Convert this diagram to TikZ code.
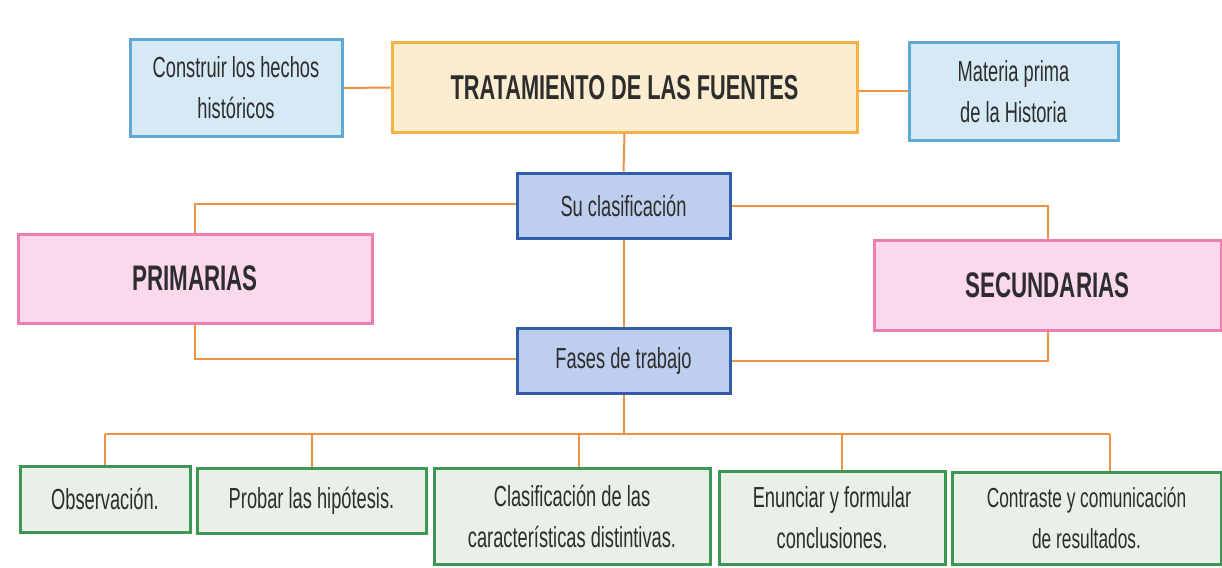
\documentclass[tikz,border=0pt]{standalone}
\usepackage{fontspec}
\setmainfont{Liberation Sans}[FakeStretch=0.63]
\definecolor{lbfill}{RGB}{214,234,246}
\definecolor{lbdraw}{RGB}{95,170,212}
\definecolor{orfill}{RGB}{253,237,208}
\definecolor{ordraw}{RGB}{246,178,70}
\definecolor{dbfill}{RGB}{190,206,238}
\definecolor{dbdraw}{RGB}{52,92,172}
\definecolor{pkfill}{RGB}{251,216,236}
\definecolor{pkdraw}{RGB}{238,128,176}
\definecolor{gnfill}{RGB}{232,240,232}
\definecolor{gndraw}{RGB}{62,150,84}
\definecolor{conn}{RGB}{240,145,70}
\definecolor{txt}{RGB}{45,45,45}
\tikzset{
  box/.style={rectangle, line width=3pt, inner sep=0pt, align=center, text=txt,
    font=\fontsize{29}{41}\selectfont},
  lightblue/.style={box, fill=lbfill, draw=lbdraw},
  orangebox/.style={box, fill=orfill, draw=ordraw, font=\fontsize{34.5}{36}\selectfont\bfseries},
  darkblue/.style={box, fill=dbfill, draw=dbdraw},
  pinkbox/.style={box, fill=pkfill, draw=pkdraw, font=\fontsize{35.5}{36}\selectfont\bfseries},
  greenbox/.style={box, fill=gnfill, draw=gndraw},
  conn/.style={draw=conn, line width=2pt}
}
\begin{document}
\begin{tikzpicture}[x=1pt, y=-1pt]
\fill[white] (0,0) rectangle (1222,567);
\useasboundingbox (0,0) rectangle (1222,567);

% top row
\node[lightblue, minimum width=212pt, minimum height=96pt] (construir) at (236,88) {Construir los hechos\\históricos};
\node[orangebox, minimum width=465pt, minimum height=89pt] (trat) at (624.5,87.5) {TRATAMIENTO DE LAS FUENTES};
\node[lightblue, minimum width=209pt, minimum height=97pt] (materia) at (1013.5,91.5) {Materia prima\\de la Historia};

% middle
\node[darkblue, minimum width=213pt, minimum height=65pt] (suclas) at (623.5,205.5) {Su clasificación};
\node[darkblue, minimum width=213pt, minimum height=65pt] (fases) at (623.5,360.5) {Fases de trabajo};
\node[pinkbox, minimum width=354pt, minimum height=89pt] (prim) at (195,278.5) {PRIMARIAS};
\node[pinkbox, minimum width=347pt, minimum height=90pt] (secu) at (1047.5,285) {SECUNDARIAS};

% bottom row
\node[greenbox, minimum width=170pt, minimum height=66pt] (obs) at (105,499) {Observación.};
\node[greenbox, minimum width=229pt, minimum height=65pt] (probar) at (311.5,500.5) {Probar las hipótesis.};
\node[greenbox, minimum width=276pt, minimum height=96pt] (clasif) at (572,516) {Clasificación de las\\características distintivas.};
\node[greenbox, minimum width=226pt, minimum height=93pt] (enunciar) at (832,517.5) {Enunciar y formular\\conclusiones.};
\node[greenbox, minimum width=269pt, minimum height=92pt, font=\fontsize{27.5}{41}\selectfont] (contraste) at (1086.5,518) {Contraste y comunicación\\de resultados.};

% connectors
\draw[conn] (construir.east) -- (trat.west);
\draw[conn] (trat.east |- materia.west) -- (materia.west);
\draw[conn] (trat.south) -- (suclas.north);
\draw[conn] (suclas.south) -- (fases.north);
\draw[conn] ([yshift=2pt]suclas.west) -| (prim.north);
\draw[conn] (prim.south) |- ([yshift=2pt]fases.west);
\draw[conn] (suclas.east) -| (secu.north);
\draw[conn] (secu.south) |- (fases.east);

\coordinate (bus) at (0,434);
\coordinate (d3) at ([xshift=7pt]clasif.north);
\coordinate (d4) at ([xshift=10pt]enunciar.north);
\coordinate (d5) at ([xshift=23pt]contraste.north);
\draw[conn] (fases.south) -- (fases.south |- bus);
\draw[conn] (obs.north |- bus) -- (d5 |- bus);
\draw[conn] (obs.north |- bus) -- (obs.north);
\draw[conn] (probar.north |- bus) -- (probar.north);
\draw[conn] (d3 |- bus) -- (d3);
\draw[conn] (d4 |- bus) -- (d4);
\draw[conn] (d5 |- bus) -- (d5);
\end{tikzpicture}
\end{document}
